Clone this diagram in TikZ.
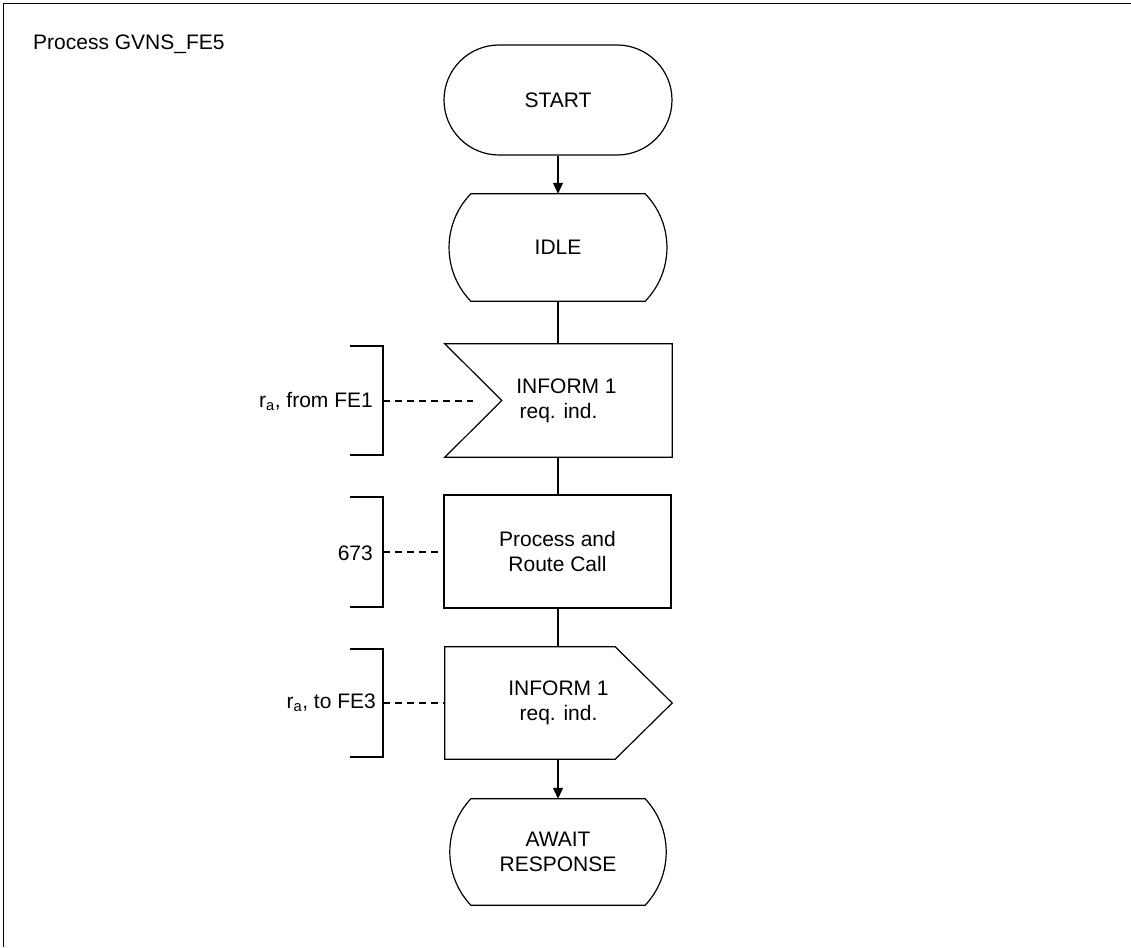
\documentclass[tikz,border=0pt]{standalone}
\usepackage{fontspec}
\setmainfont{Liberation Sans}
\usetikzlibrary{shapes.misc,arrows.meta,calc}
\begin{document}
\begin{tikzpicture}[x=1pt,y=-1pt,
  txt/.style={font=\fontsize{21}{25}\selectfont, align=center, inner sep=0pt},
  ln/.style={line width=1.2pt},
  terminal/.style={txt, draw, ln, rounded rectangle, minimum width=228pt, minimum height=110pt},
  blank/.style={txt, draw=none},
  taskbox/.style={txt, draw, ln, rectangle, minimum width=227pt, minimum height=113pt},
  lbl/.style={font=\fontsize{21}{25}\selectfont, inner sep=0pt, anchor=base east},
  flow/.style={ln},
  arr/.style={ln, -{Triangle[length=11pt,width=10pt]}},
  dsh/.style={ln, dash pattern=on 7pt off 5pt},
  brk/.style={ln}
]
\useasboundingbox (0,0) rectangle (1131,947);
% frame
\draw[line width=1.5pt] (3.5,947) -- (3.5,3.5) -- (1131,3.5);
\node[lbl, anchor=base west] (title) at (33,50) {Process GVNS\_FE5};

% START
\node[terminal] (start) at (558,100) {START};

% IDLE (state)
\node[blank, minimum width=218pt, minimum height=107pt] (idle) at (558,247.5) {IDLE};
\draw[ln] ([xshift=22pt]idle.north west) -- ([xshift=-22pt]idle.north east)
  .. controls +(29,30) and +(29,-30) .. ([xshift=-22pt]idle.south east)
  -- ([xshift=22pt]idle.south west)
  .. controls +(-29,-30) and +(-29,30) .. ([xshift=22pt]idle.north west) -- cycle;

% Input
\node[blank, minimum width=227pt, minimum height=113pt] (in) at (558.5,400.5) {\hspace*{16pt}INFORM 1\\req. ind.};
\draw[ln] (in.north west) -- (in.north east) -- (in.south east) -- (in.south west)
  -- ([xshift=57pt]in.west) -- cycle;

% Task
\node[taskbox] (task) at (557.5,551.5) {Process and\\Route Call};

% Output
\node[blank, minimum width=227pt, minimum height=112pt] (out) at (558.5,703) {INFORM 1\\req. ind.};
\draw[ln] (out.north west) -- ([xshift=-57pt]out.north east) -- (out.east)
  -- ([xshift=-57pt]out.south east) -- (out.south west) -- cycle;

% AWAIT RESPONSE (state)
\node[blank, minimum width=216pt, minimum height=106pt] (await) at (558,852) {AWAIT\\RESPONSE};
\draw[ln] ([xshift=21pt]await.north west) -- ([xshift=-21pt]await.north east)
  .. controls +(28,30) and +(28,-30) .. ([xshift=-21pt]await.south east)
  -- ([xshift=21pt]await.south west)
  .. controls +(-28,-30) and +(-28,30) .. ([xshift=21pt]await.north west) -- cycle;

% flow connectors
\draw[arr] (start.south) -- (idle.north);
\draw[flow] (idle.south) -- (in.north -| idle.south);
\draw[flow] (in.south -| idle.south) -- (task.north -| idle.south);
\draw[flow] (task.south -| idle.south) -- (out.north -| idle.south);
\draw[arr] (out.south -| idle.south) -- (await.north);

% annotations
\coordinate (b1) at (383,401);
\coordinate (e1) at (473,401);
\draw[brk] ($(b1)+(-33,-55)$) -- ($(b1)+(0,-55)$) -- ($(b1)+(0,54)$) -- ($(b1)+(-33,54)$);
\draw[dsh] (b1) -- (e1);
\node[lbl] (l1) at ($(b1)+(-10,6)$) {r\textsubscript{a}, from FE1};

\coordinate (b2) at (383,552);
\draw[brk] ($(b2)+(-33,-55)$) -- ($(b2)+(0,-55)$) -- ($(b2)+(0,55)$) -- ($(b2)+(-33,55)$);
\draw[dsh] (b2) -- (task.west |- b2);
\node[lbl] (l2) at ($(b2)+(-10,8)$) {673};

\coordinate (b3) at (383,703);
\draw[brk] ($(b3)+(-33,-54)$) -- ($(b3)+(0,-54)$) -- ($(b3)+(0,54)$) -- ($(b3)+(-33,54)$);
\draw[dsh] (b3) -- (out.west);
\node[lbl] (l3) at ($(b3)+(-7,5)$) {r\textsubscript{a}, to FE3};
\end{tikzpicture}
\end{document}
